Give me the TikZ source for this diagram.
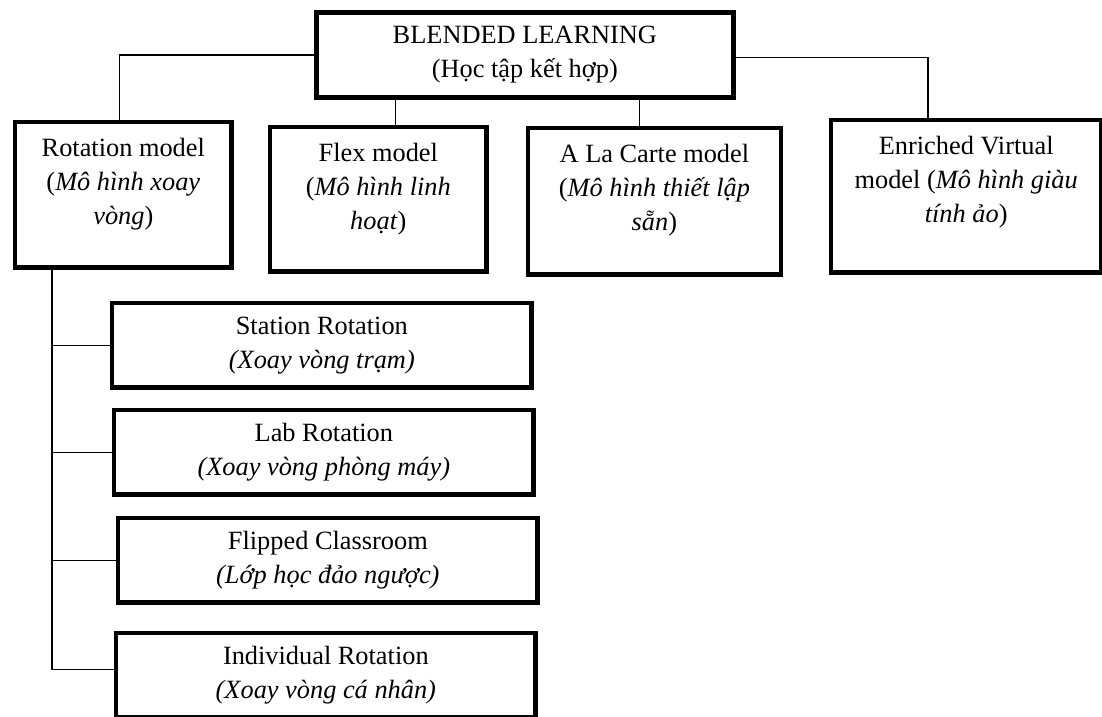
\documentclass[tikz,border=0pt]{standalone}
\usepackage{fontspec}
\setmainfont{Liberation Serif}

\begin{document}
\begin{tikzpicture}[x=0.016cm, y=-0.016cm,
  box/.style={draw, line width=2.2pt, align=flush center, font=\fontsize{12}{15.5}\selectfont},
  model/.style={box, anchor=north west, inner xsep=1mm, inner ysep=0pt, text height=0.56cm},
  sub/.style={box, anchor=north west, minimum width=6.72cm, minimum height=1.36cm},
  link/.style={line width=0.6pt}]
\useasboundingbox (0,0) rectangle (1102,716);
\node[box, anchor=north west, minimum width=6.672cm, minimum height=1.36cm] (bl) at (314,10) {BLENDED LEARNING\\(Học tập kết hợp)};
\node[model, text width=3.27cm, text depth=1.77cm] (rot) at (12.5,119.5) {Rotation model\\(\textit{Mô hình xoay}\\\textit{vòng})};
\node[model, text width=3.27cm, text depth=1.75cm] (flex) at (267.5,124.5) {Flex model\\(\textit{Mô hình linh}\\\textit{hoạt})};
\node[model, text width=3.85cm, text depth=1.78cm] (alc) at (525.5,125.5) {A La Carte model\\(\textit{Mô hình thiết lập}\\\textit{sẵn})};
\node[model, text width=4.13cm, text depth=1.88cm] (enr) at (828.5,117.5) {Enriched Virtual\\model (\textit{Mô hình giàu}\\\textit{tính ảo})};
\node[sub] (sta) at (109.5,300.5) {Station Rotation\\\textit{(Xoay vòng trạm)}};
\node[sub] (lab) at (111.5,407.5) {Lab Rotation\\\textit{(Xoay vòng phòng máy)}};
\node[sub] (flip) at (115.5,515.5) {Flipped Classroom\\\textit{(Lớp học đảo ngược)}};
\node[sub] (ind) at (113.5,630.5) {Individual Rotation\\\textit{(Xoay vòng cá nhân)}};
\draw[link] (bl.west) -| ([xshift=-0.06cm]rot.north);
\draw[link] ([yshift=-0.04cm]bl.east) -| ([xshift=1.59cm]enr.north west);
\draw[link] ([xshift=0.27cm]flex.north) -- ([xshift=0.27cm]flex.north |- bl.south);
\draw[link] ([xshift=-0.24cm]alc.north) -- ([xshift=-0.24cm]alc.north |- bl.south);
\coordinate (trunk) at ([xshift=-1.14cm]rot.south);
\draw[link] (trunk) |- ([yshift=0.1cm]ind.west);
\draw[link] (sta.west) -- (sta.west -| trunk);
\draw[link] (lab.west) -- (lab.west -| trunk);
\draw[link] (flip.west) -- (flip.west -| trunk);
\end{tikzpicture}
\end{document}
